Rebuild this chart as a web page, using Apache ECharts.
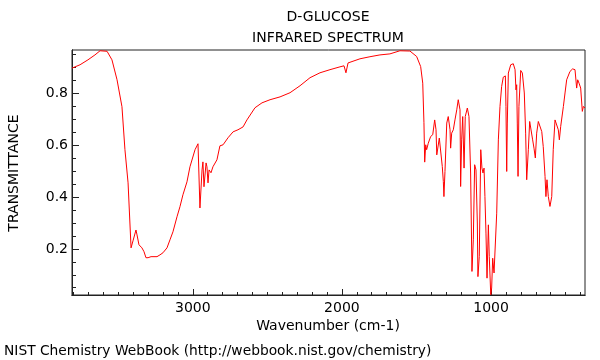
<!DOCTYPE html>
<html><head><meta charset="utf-8">
<script src="https://cdn.jsdelivr.net/npm/echarts@6/dist/echarts.min.js"></script>
<style>html,body{margin:0;padding:0;background:#fff}#c{width:600px;height:360px}</style>
</head><body><div id="c"></div>
<script>
const titleLines = ['D-GLUCOSE', 'INFRARED SPECTRUM'];
const xName = 'Wavenumber (cm-1)';
const yName = 'TRANSMITTANCE';
const footer = 'NIST Chemistry WebBook (http://webbook.nist.gov/chemistry)';
const xTickLabels = [3000, 2000, 1000];
const yTickLabels = [0.2, 0.4, 0.6, 0.8];
const wavenumbers = [3810,3756,3703,3656,3622,3575,3542,3508,3475,3455,3434,3414,3401,3381,3374,3361,3341,3327,3314,3300,3280,3267,3240,3220,3200,3173,3153,3133,3106,3086,3066,3039,3019,2985,2965,2958,2952,2938,2932,2925,2911,2905,2898,2891,2878,2865,2838,2818,2797,2764,2730,2697,2663,2637,2583,2536,2482,2415,2348,2281,2214,2147,2080,2013,1986,1973,1959,1879,1812,1745,1678,1611,1544,1499,1472,1458,1450,1445,1438,1432,1421,1405,1391,1378,1369,1364,1356,1347,1338,1327,1320,1316,1309,1297,1287,1275,1271,1264,1253,1242,1230,1220,1208,1204,1197,1190,1181,1173,1159,1148,1137,1128,1119,1110,1101,1092,1088,1079,1069,1061,1054,1047,1041,1034,1027,1018,1012,1002,996,989,980,971,962,951,940,929,918,904,900,895,891,884,868,851,839,833,828,824,819,813,801,790,777,768,761,750,741,732,721,712,703,694,683,672,660,650,638,632,625,616,605,593,583,571,560,549,542,533,524,515,504,493,471,453,437,426,419,410,399,388,381,370];
const transmittance = [0.898,0.911,0.930,0.949,0.965,0.963,0.930,0.853,0.749,0.583,0.455,0.204,0.231,0.273,0.254,0.216,0.204,0.189,0.166,0.166,0.170,0.166,0.170,0.177,0.185,0.204,0.235,0.266,0.324,0.363,0.409,0.459,0.517,0.583,0.606,0.602,0.358,0.505,0.536,0.440,0.532,0.517,0.455,0.505,0.494,0.517,0.544,0.598,0.602,0.629,0.652,0.660,0.671,0.698,0.745,0.764,0.776,0.787,0.803,0.830,0.861,0.880,0.892,0.903,0.907,0.880,0.918,0.934,0.942,0.949,0.953,0.965,0.964,0.943,0.904,0.840,0.687,0.535,0.602,0.583,0.608,0.634,0.641,0.698,0.660,0.563,0.557,0.628,0.621,0.518,0.460,0.402,0.499,0.686,0.711,0.660,0.589,0.647,0.660,0.698,0.737,0.776,0.737,0.441,0.621,0.711,0.512,0.711,0.744,0.711,0.493,0.113,0.235,0.525,0.505,0.300,0.093,0.171,0.583,0.512,0.493,0.512,0.402,0.261,0.087,0.293,0.171,0.023,0.049,0.164,0.107,0.100,0.338,0.621,0.750,0.827,0.863,0.868,0.750,0.499,0.686,0.879,0.911,0.915,0.892,0.814,0.834,0.686,0.480,0.750,0.889,0.879,0.802,0.647,0.467,0.583,0.692,0.686,0.621,0.589,0.551,0.647,0.692,0.686,0.653,0.595,0.480,0.402,0.467,0.402,0.364,0.402,0.583,0.698,0.692,0.660,0.621,0.673,0.679,0.750,0.802,0.853,0.885,0.895,0.892,0.821,0.853,0.840,0.821,0.731,0.750,0.744];

const X_MIN = 370, X_MAX = 3810, Y_MIN = 0.022, Y_MAX = 0.968;
const xMinorTicks = []; for (let v = 400; v <= 3800; v += 100) xMinorTicks.push(v);
const yMinorTicks = []; for (let i = 1; i <= 19; i++) yMinorTicks.push(+(i * 0.05).toFixed(2));
const data = wavenumbers.map((w, i) => [w, transmittance[i]]);
const FONT = 'DejaVu Sans';
const chart = echarts.init(document.getElementById('c'), null, {renderer: 'canvas'});
const baseX = {type: 'value', inverse: true, min: X_MIN, max: X_MAX, splitLine: {show: false},
  axisLine: {show: true, lineStyle: {color: '#222', width: 1}}};
const baseY = {type: 'value', min: Y_MIN, max: Y_MAX, splitLine: {show: false},
  axisLine: {show: true, lineStyle: {color: '#222', width: 1}}};
function txt(text, x, y, size, align, rot) {
  return {type: 'text', x: x, y: y, rotation: rot || 0,
    style: {text: text, font: size + 'px "' + FONT + '"', fill: '#000',
      align: align, verticalAlign: 'middle', textAlign: align, textVerticalAlign: 'middle'}};
}
chart.setOption({
  animation: false,
  grid: {left: 72, right: 15, top: 50, bottom: 65, show: true, borderColor: '#222', borderWidth: 1},
  xAxis: [
    Object.assign({}, baseX, {
      axisTick: {inside: true, length: 6, customValues: xTickLabels, lineStyle: {color: '#222'}},
      axisLabel: {customValues: xTickLabels, margin: 6, color: '#000', fontFamily: FONT, fontSize: 14,
        formatter: v => String(v)}
    }),
    Object.assign({}, baseX, {position: 'bottom',
      axisTick: {inside: true, length: 3, customValues: xMinorTicks, lineStyle: {color: '#222'}},
      axisLabel: {show: false}
    })
  ],
  yAxis: [
    Object.assign({}, baseY, {
      axisTick: {inside: true, length: 7, customValues: yTickLabels, lineStyle: {color: '#222'}},
      axisLabel: {customValues: yTickLabels, margin: 4, color: '#000', fontFamily: FONT, fontSize: 14,
        formatter: v => v.toFixed(1)}
    }),
    Object.assign({}, baseY, {position: 'left',
      axisTick: {inside: true, length: 4, customValues: yMinorTicks, lineStyle: {color: '#222'}},
      axisLabel: {show: false}
    })
  ],
  series: [{type: 'line', data: data, xAxisIndex: 0, yAxisIndex: 0, showSymbol: false,
    lineStyle: {color: '#ff0000', width: 1}, silent: true}],
  graphic: [
    txt(titleLines[0], 328, 17, 14, 'center'),
    txt(titleLines[1], 328, 38, 14, 'center'),
    txt(xName, 328, 326, 14, 'center'),
    txt(yName, 14, 173, 14, 'center', Math.PI / 2),
    txt(footer, 4, 351, 13.8, 'left')
  ]
});
</script></body></html>
